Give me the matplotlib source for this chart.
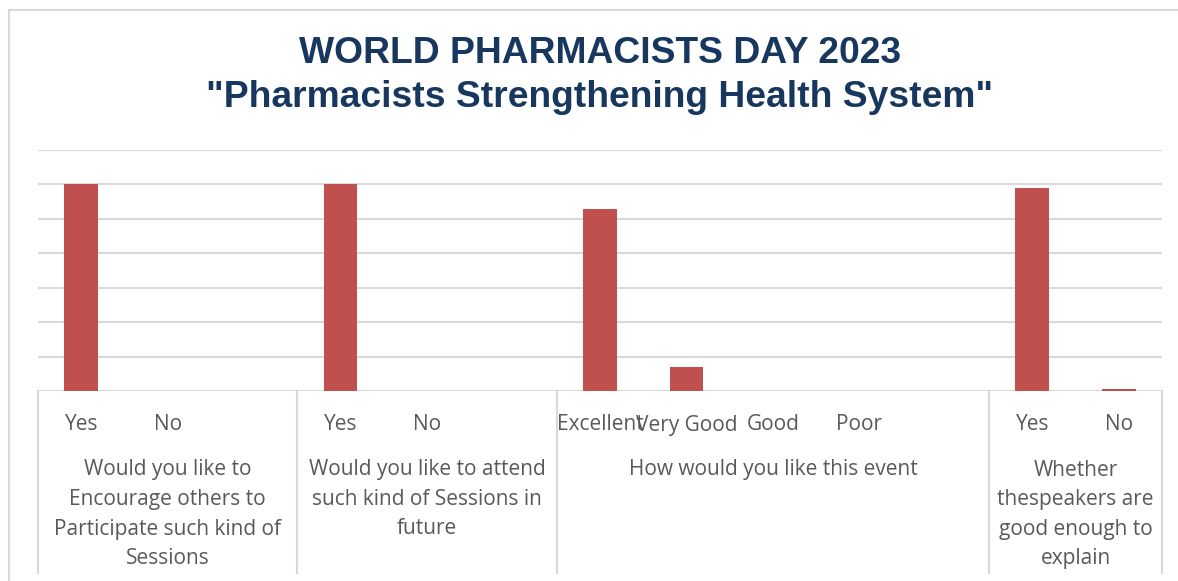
import numpy as np
import matplotlib.pyplot as plt
from matplotlib.lines import Line2D

# survey answers (counts), one entry per category slot on the x axis
sub_labels = ["Yes", "No", "", "Yes", "No", "",
              "Excellent", "Very Good", "Good", "Poor", "", "Yes", "No"]
values = [120, 0, 0, 120, 0, 0, 106, 14, 0, 0, 0, 118, 1]
group_labels = ["Would you like to\nEncourage others to\nParticipate such kind of\nSessions",
                "Would you like to attend\nsuch kind of Sessions in\nfuture",
                "How would you like this event",
                "Whether\nthespeakers are\ngood enough to\nexplain"]
group_sizes = [3, 3, 5, 2]

W, H = 1178, 581
fig = plt.figure(figsize=(W / 100, H / 100), dpi=100)
# outer chart frame (only left and top edges fall inside the picture)
fig.add_artist(Line2D([9 / W, 9 / W], [0, 1 - 10 / H], color='#D9D9D9', linewidth=1.5))
fig.add_artist(Line2D([9 / W, 1.0], [1 - 10 / H, 1 - 10 / H], color='#D9D9D9', linewidth=1.5))

x0, x1, ytop, ybot = 38, 1162, 150, 391
ax = fig.add_axes([x0 / W, 1 - ybot / H, (x1 - x0) / W, (ybot - ytop) / H])
n = len(values)
x = np.arange(n)
ax.bar(x, values, width=0.39, color='#C0504D', zorder=3)
ax.set_xlim(-0.5, n - 0.5)
ax.set_ylim(0, 140)
ax.set_yticks(np.arange(0, 141, 20))
ax.grid(axis='y', color='#D9D9D9', linewidth=1.5)
ax.tick_params(left=False, bottom=False, labelleft=False, labelbottom=False)
for s in ax.spines.values():
    s.set_visible(False)
ax.axhline(0, color='#D9D9D9', linewidth=1.5, zorder=2)

ax_h = ybot - ytop
tr = ax.get_xaxis_transform()
txt = dict(family='Open Sans', fontsize=15, color='#595959')

for i, lab in enumerate(sub_labels):
    ax.text(i, -(425 - ybot) / ax_h, lab, ha='center', va='center', transform=tr, **txt)

edges = np.concatenate([[0], np.cumsum(group_sizes)]) - 0.5
for e in edges:
    ax.plot([e, e], [0, -(573 - ybot) / ax_h], color='#D9D9D9', linewidth=1.5,
            transform=tr, clip_on=False)
for g, lab in enumerate(group_labels):
    cx = (edges[g] + edges[g + 1]) / 2
    for k, line in enumerate(lab.split("\n")):
        yy = 470 + 29.5 * k
        ax.text(cx, -(yy - ybot) / ax_h, line, ha='center', va='center', transform=tr, **txt)

title_kw = dict(family='Liberation Sans', fontweight='bold', fontsize=26.8, color='#17375E',
                ha='center', va='baseline')
fig.text(600 / W, 1 - 63 / H, "WORLD PHARMACISTS DAY 2023", **title_kw)
fig.text(600 / W, 1 - 107 / H, '"Pharmacists Strengthening Health System"', **title_kw)

fig.savefig('out.png', dpi=100)
